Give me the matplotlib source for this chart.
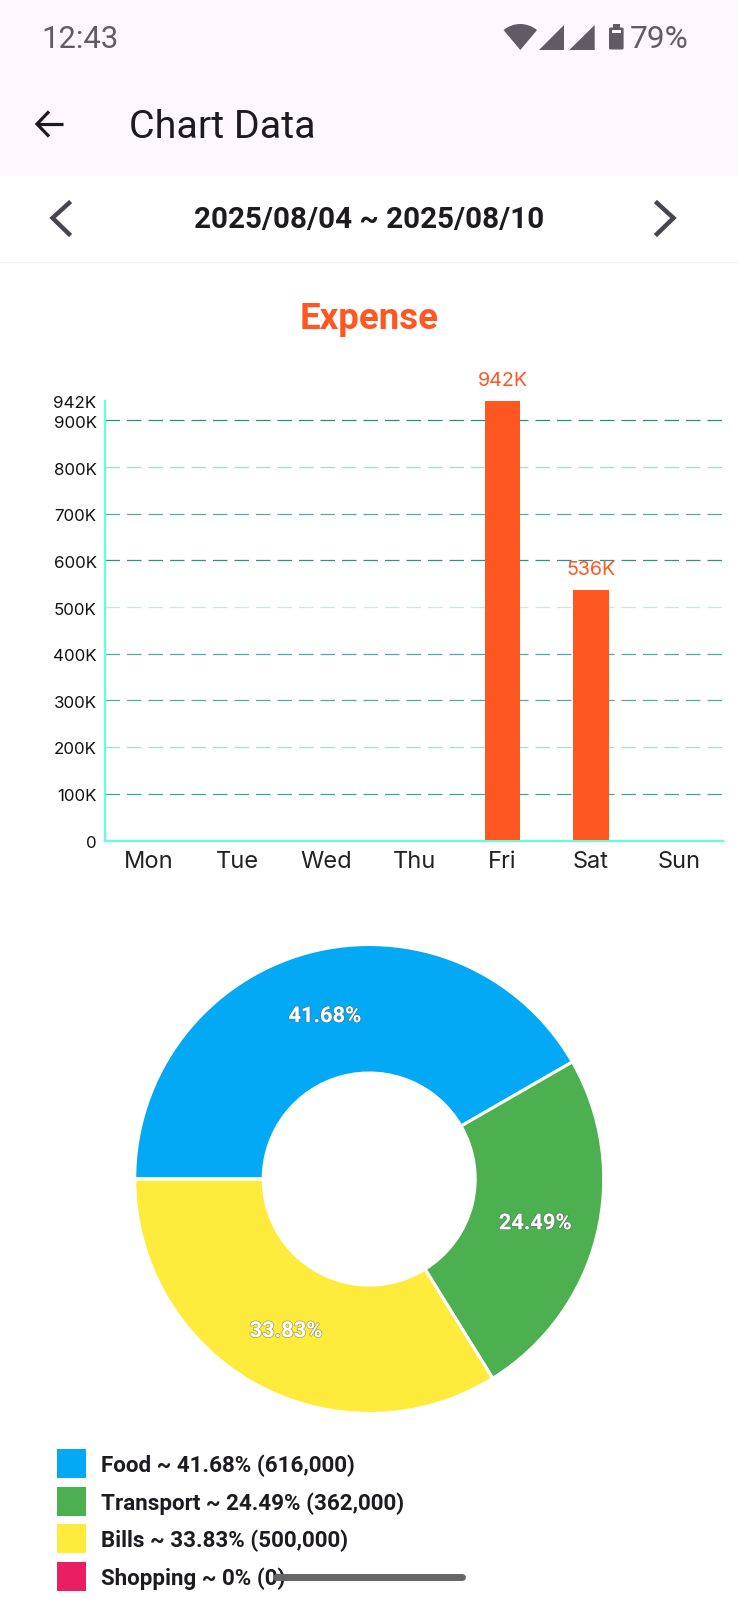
import matplotlib
matplotlib.use('Agg')
import matplotlib.pyplot as plt
import matplotlib.patheffects as pe
from matplotlib.patches import Polygon, Rectangle, Wedge, FancyBboxPatch
from matplotlib.transforms import ScaledTranslation

W, H = 738, 1599

# chart data
days = ['Mon', 'Tue', 'Wed', 'Thu', 'Fri', 'Sat', 'Sun']
expense = [0, 0, 0, 0, 942000, 536000, 0]
y_ticks = [0, 100000, 200000, 300000, 400000, 500000, 600000, 700000, 800000, 900000, 942000]
y_labels = ['0', '100K', '200K', '300K', '400K', '500K', '600K', '700K', '800K', '900K', '942K']
grid_levels = [100000, 200000, 300000, 400000, 500000, 600000, 700000, 800000, 900000]
grid_colors = ['#3aa5a3', '#a5dcd2', '#4fa9a6', '#4fa9a6', '#c4e9e3', '#2e928c', '#55aaa8', '#a3dbce', '#1f8f85']

categories = ['Food', 'Transport', 'Bills', 'Shopping']
amounts = [616000, 362000, 500000, 0]
shares = ['41.68%', '24.49%', '33.83%', '0%']
amount_labels = ['616,000', '362,000', '500,000', '0']
cat_colors = ['#03A9F4', '#4CAF50', '#FFEB3B', '#E91E63']

ORANGE = '#FF5722'
AXIS = '#64FFDA'
DARK = '#1D1B20'
GREY = '#625B66'

plt.rcParams['font.family'] = ['Roboto', 'DejaVu Sans']


def place(left, top, right, bottom):
    return [left / W, 1 - bottom / H, (right - left) / W, (bottom - top) / H]


fig = plt.figure(figsize=(W / 100, H / 100), dpi=100, facecolor='white')

# bar chart
ax = fig.add_axes(place(105, 400.9, 723.3, 840.2))
# has to come first, moving a spine resets the tick labels
ax.spines['bottom'].set_position(('outward', 0.5))
ax.bar(range(len(days)), expense, width=0.405, color=ORANGE, zorder=3)
for level, col in zip(grid_levels, grid_colors):
    ax.axhline(level, color=col, lw=0.9, linestyle=(0, (11.6, 5.6)), zorder=1)
ax.set_xlim(-0.5, 6.5)
ax.set_ylim(0, 942000)
ax.set_xticks(range(len(days)))
ax.set_xticklabels(days, fontsize=17, color='#222222', family=['Inter', 'DejaVu Sans'])
ax.set_yticks(y_ticks)
ax.set_yticklabels(y_labels, fontsize=12.2, color='#111111', family=['Inter', 'DejaVu Sans'])
ax.tick_params(axis='x', length=0, pad=7.5)
ax.tick_params(axis='y', length=0, pad=6)
for side in ['top', 'right']:
    ax.spines[side].set_visible(False)
for side in ['left', 'bottom']:
    ax.spines[side].set_color(AXIS)
    ax.spines[side].set_linewidth(1.7)
shift = ScaledTranslation(0, -1.5 / 100, fig.dpi_scale_trans)
for lab in ax.get_yticklabels():
    lab.set_transform(lab.get_transform() + shift)
for i, v in enumerate(expense):
    if v > 0:
        ax.annotate(f'{round(v / 1000)}K', (i, v), xytext=(0, 8), textcoords='offset points',
                    ha='center', va='bottom', fontsize=14.2, color=ORANGE, zorder=4,
                    family=['Inter', 'DejaVu Sans'])

# donut
pie_ax = fig.add_axes(place(369.2 - 234.5, 1179 - 234.5, 369.2 + 234.5, 1179 + 234.5))
wedges, _, autotexts = pie_ax.pie(
    amounts, colors=cat_colors, startangle=180, counterclock=False, radius=1,
    wedgeprops=dict(width=1 - 106 / 234.5, edgecolor='white', linewidth=2.2),
    autopct=lambda p: f'{p:.2f}%' if p > 0 else '', pctdistance=0.73,
    textprops=dict(color='white', fontsize=15.8, fontweight='bold'))
pie_ax.set_xlim(-1, 1)
pie_ax.set_ylim(-1, 1)
for t in autotexts:
    t.set_path_effects([pe.withStroke(linewidth=1.0, foreground='#55555588')])
    t.set_transform(t.get_transform() + ScaledTranslation(0, -2.5 / 100, fig.dpi_scale_trans))

# screen parts, in pixels from the top left
ui = fig.add_axes([0, 0, 1, 1], zorder=5)
ui.set_xlim(0, W)
ui.set_ylim(H, 0)
ui.axis('off')
ui.patch.set_alpha(0)

ui.add_patch(Rectangle((0, 0), W, 175.5, color='#FEF7FF', lw=0, zorder=0))
ui.plot([0, W], [262, 262], color='#F1F1F1', lw=1)

ui.text(41, 39.5, '12:43', fontsize=22.3, color=GREY, va='center')
ui.text(630, 39.5, '79%', fontsize=22.8, color=GREY, va='center')
ui.add_patch(Wedge((520.3, 50), 26, 230, 310, color=GREY, lw=0))
ui.add_patch(Polygon([(539, 50), (564, 25), (564, 50)], color=GREY, lw=0))
ui.add_patch(Polygon([(569.3, 50), (594.7, 25), (594.7, 50)], color=GREY, lw=0))
ui.add_patch(FancyBboxPatch((609, 27.5), 14.6, 22, boxstyle='round,pad=0,rounding_size=1.5', color=GREY, lw=0))
ui.add_patch(Rectangle((613, 24), 6.5, 4, color=GREY, lw=0))
ui.add_patch(Rectangle((612, 29.5), 8.6, 3.5, color='#FEF7FF', lw=0))

ui.plot([63, 37], [124, 124], color=DARK, lw=2.3, solid_capstyle='butt')
ui.plot([49, 37, 49], [111.5, 124, 136.5], color=DARK, lw=2.3, solid_capstyle='butt', solid_joinstyle='miter')
ui.text(129, 127, 'Chart Data', fontsize=28.4, color=DARK, va='center')

ui.plot([69, 52.5, 69], [203, 218, 234], color='#49454F', lw=3.2, solid_joinstyle='miter')
ui.plot([657, 673.5, 657], [203, 218, 234], color='#49454F', lw=3.2, solid_joinstyle='miter')
ui.text(369, 219.5, '2025/08/04 ~ 2025/08/10', fontsize=21.3, fontweight='bold', color=DARK, ha='center', va='center')
ui.text(369, 319, 'Expense', fontsize=26.4, fontweight='bold', color=ORANGE, ha='center', va='center')

# legend
legend_tops = [1449, 1487, 1524.3, 1562]
for top, name, share, amt, col in zip(legend_tops, categories, shares, amount_labels, cat_colors):
    ui.add_patch(Rectangle((57, top), 29, 29, color=col, lw=0))
    ui.text(101, top + 16.5, f'{name} ~ {share} ({amt})', fontsize=16.1, fontweight='bold', color=DARK, va='center')

# gesture bar over the legend text
ui.plot([276, 462], [1577.3, 1577.3], color='#666666', lw=5, solid_capstyle='round', zorder=6)

fig.savefig('out.png', dpi=100)
